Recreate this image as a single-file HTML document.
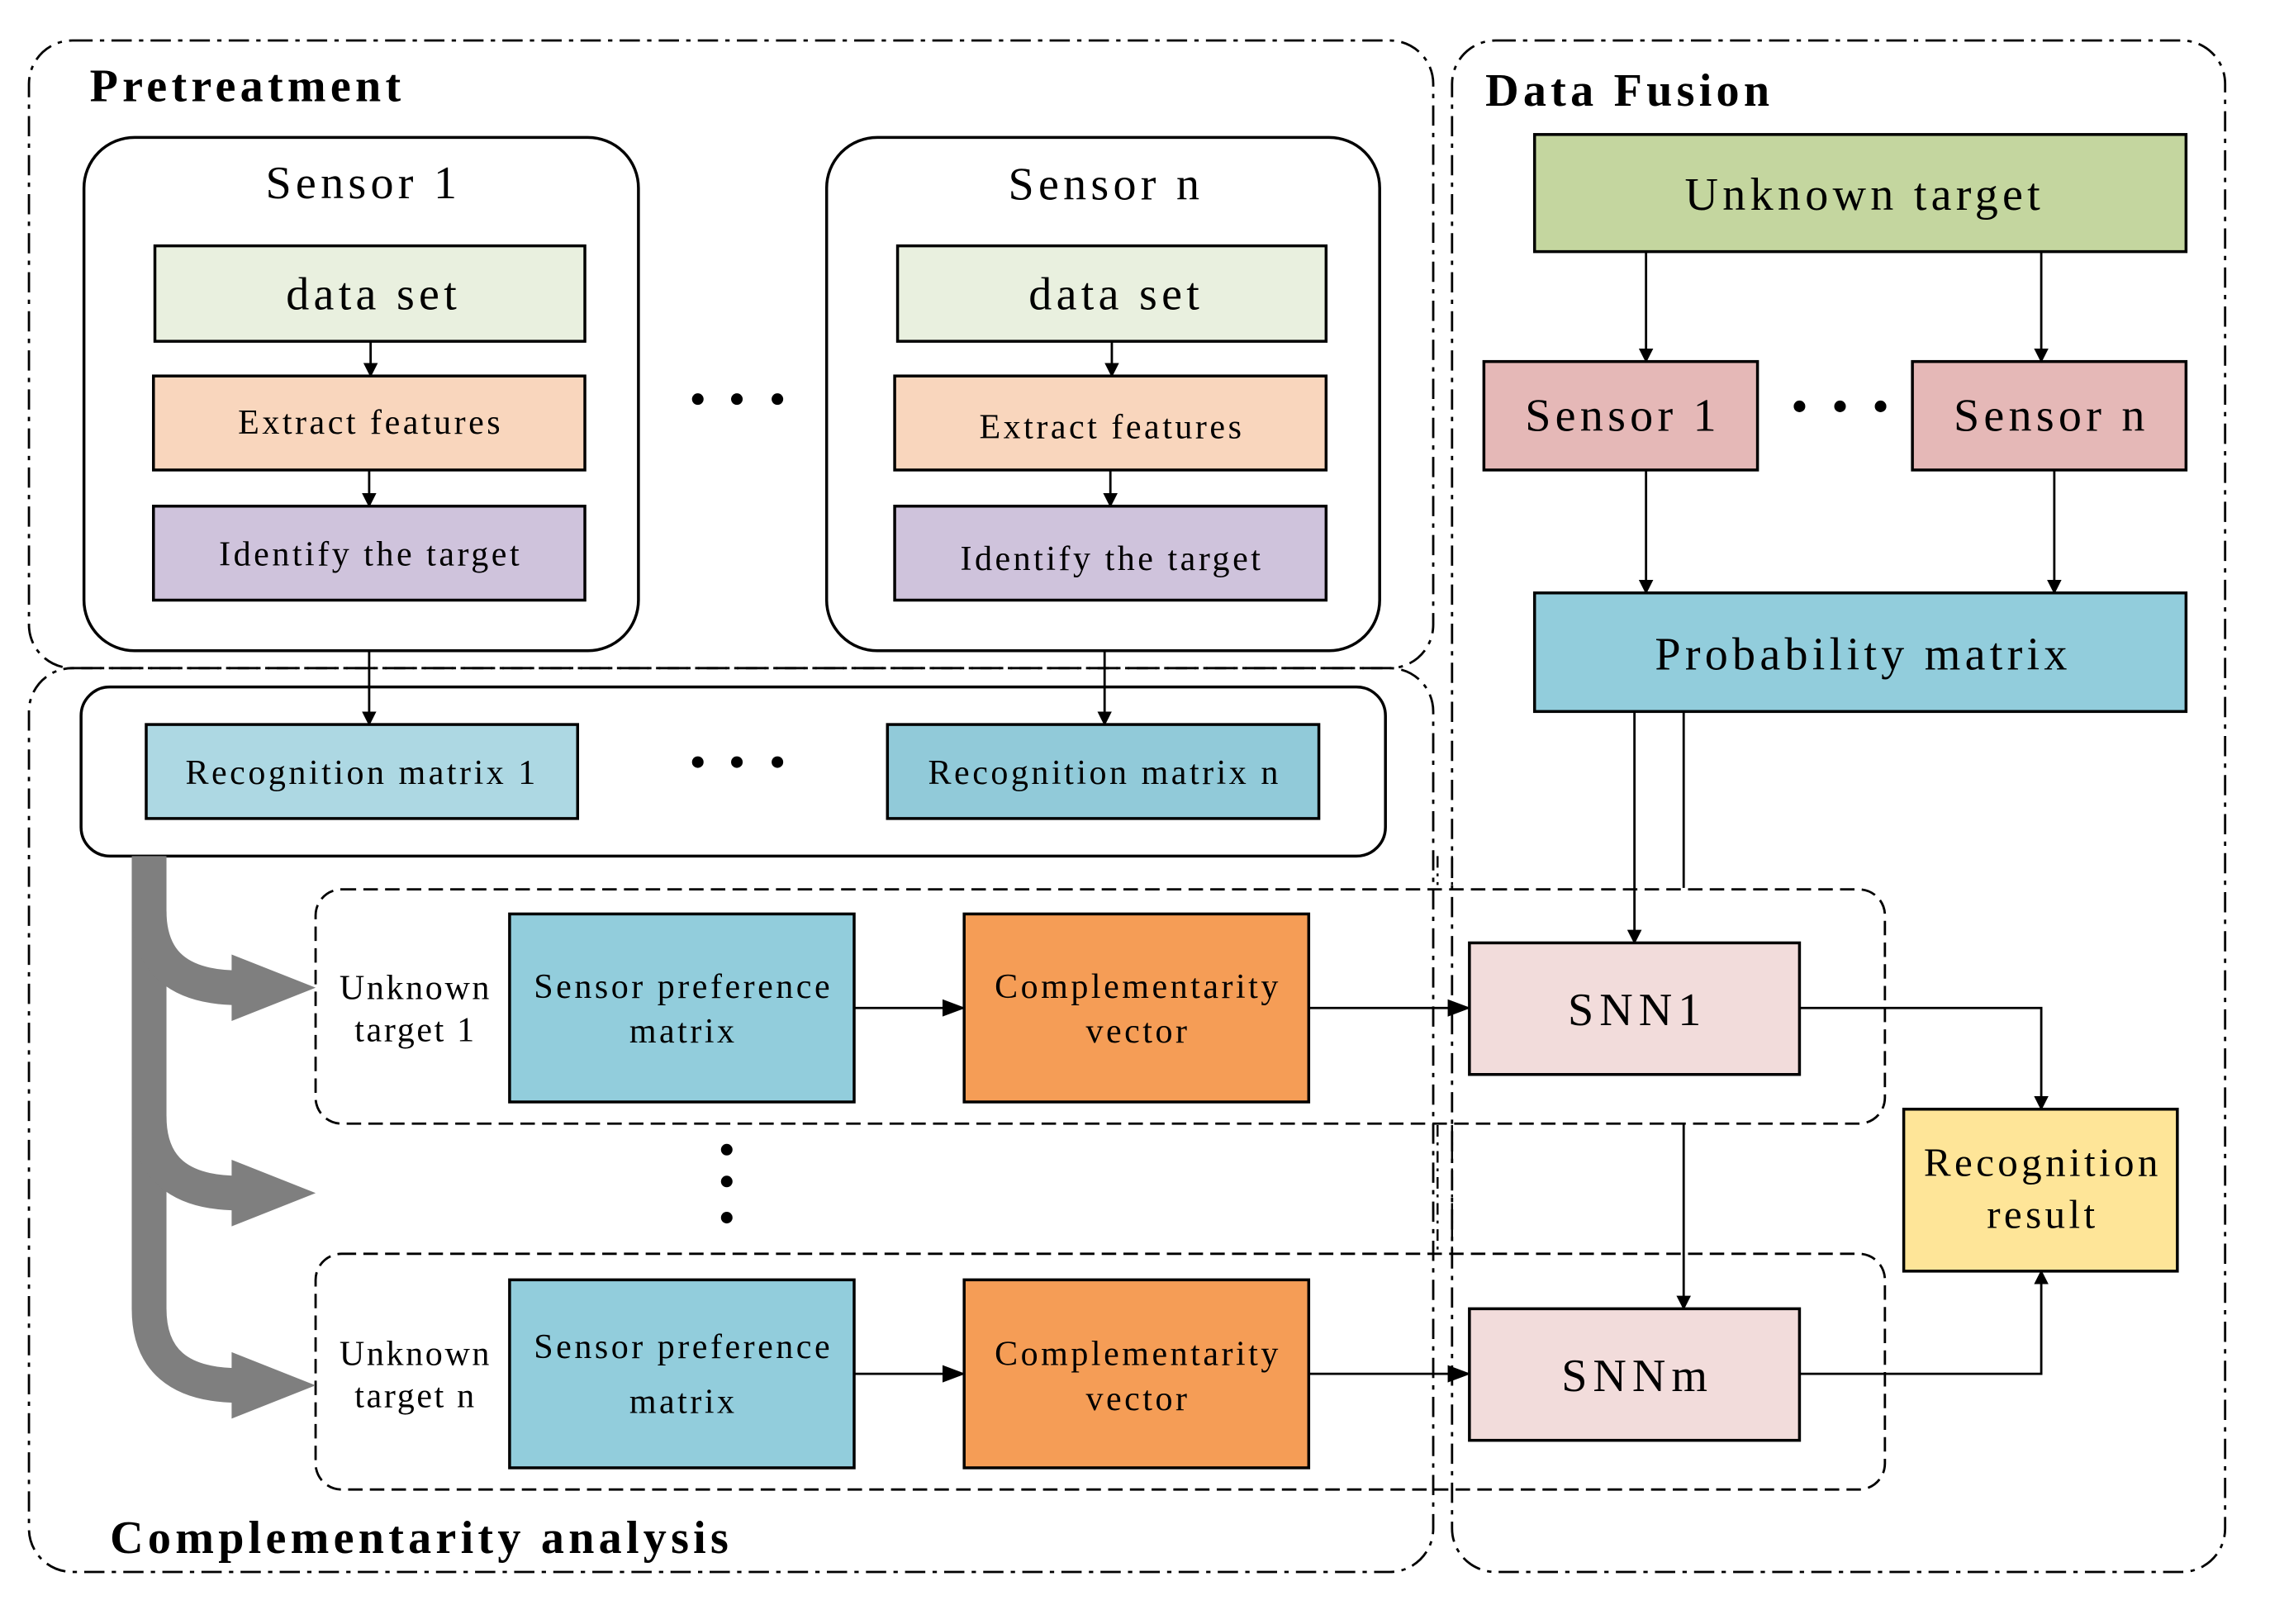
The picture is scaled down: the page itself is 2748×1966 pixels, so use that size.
<!DOCTYPE html>
<html><head><meta charset="utf-8"><style>
html,body{margin:0;padding:0;background:#fff;}
svg{display:block;}
text{font-family:"Liberation Serif",serif;fill:#000;}
</style></head><body>
<svg width="2748" height="1966" viewBox="0 0 1568 1123" preserveAspectRatio="none" xmlns="http://www.w3.org/2000/svg">
<defs>
<marker id="a" markerWidth="10" markerHeight="10" refX="9" refY="5" orient="auto" markerUnits="userSpaceOnUse"><path d="M0,0 L10,5 L0,10 z" fill="#000"/></marker>
<marker id="a2" markerWidth="16" markerHeight="14" refX="15" refY="7" orient="auto" markerUnits="userSpaceOnUse"><path d="M0,1 L16,7 L0,13 z" fill="#000"/></marker>
</defs>
<g fill="none" stroke="#000" stroke-width="1.6" stroke-dasharray="14,5,3,5">
<rect x="20" y="28" width="970" height="434" rx="30"/>
<rect x="1003" y="28" width="534" height="1059" rx="30"/>
<rect x="20" y="462" width="970" height="625" rx="30"/>
</g>
<g font-size="32" font-weight="bold" letter-spacing="3">
<text x="62" y="70">Pretreatment</text>
<text x="1026" y="73">Data Fusion</text>
<text x="76" y="1074">Complementarity analysis</text>
</g>

<g stroke="#000" stroke-width="2">
<rect x="58" y="95" width="383" height="355" rx="35" fill="#fff"/>
<rect x="571" y="95" width="382" height="355" rx="35" fill="#fff"/>
<rect x="107" y="170" width="297" height="66" fill="#e9f0df"/>
<rect x="106" y="260" width="298" height="65" fill="#f9d6bd"/>
<rect x="106" y="350" width="298" height="65" fill="#cfc3dc"/>
<rect x="620" y="170" width="296" height="66" fill="#e9f0df"/>
<rect x="618" y="260" width="298" height="65" fill="#f9d6bd"/>
<rect x="618" y="350" width="298" height="65" fill="#cfc3dc"/>
<rect x="56" y="475" width="901" height="117" rx="20" fill="#fff"/>
<rect x="101" y="501" width="298" height="65" fill="#add8e3"/>
<rect x="613" y="501" width="298" height="65" fill="#91cad9"/>
<rect x="1060" y="93" width="450" height="81" fill="#c4d69f"/>
<rect x="1025" y="250" width="189" height="75" fill="#e5b8b7"/>
<rect x="1321" y="250" width="189" height="75" fill="#e5b8b7"/>
<rect x="1060" y="410" width="450" height="82" fill="#92cddc"/>
</g>
<g font-size="32" text-anchor="middle" letter-spacing="3">
<text x="251" y="137">Sensor 1</text>
<text x="764" y="138">Sensor n</text>
<text x="258" y="214">data set</text>
<text x="771" y="214">data set</text>
</g>
<g font-size="24" text-anchor="middle" letter-spacing="2">
<text x="256" y="300">Extract features</text>
<text x="256" y="391">Identify the target</text>
<text x="768" y="303">Extract features</text>
<text x="768" y="394">Identify the target</text>
<text x="250" y="542">Recognition matrix 1</text>
<text x="763" y="542">Recognition matrix n</text>
</g>
<g font-size="32" text-anchor="middle" letter-spacing="3">
<text x="1288" y="145">Unknown target</text>
<text x="1121" y="298">Sensor 1</text>
<text x="1417" y="298">Sensor n</text>
<text x="1287" y="463">Probability matrix</text>
</g>
<g fill="#000">
<circle cx="482" cy="276" r="4"/><circle cx="509" cy="276" r="4"/><circle cx="537" cy="276" r="4"/>
<circle cx="482" cy="527" r="4"/><circle cx="509" cy="527" r="4"/><circle cx="537" cy="527" r="4"/>
<circle cx="1243" cy="281" r="4"/><circle cx="1271" cy="281" r="4"/><circle cx="1299" cy="281" r="4"/>
<circle cx="502" cy="795" r="4"/><circle cx="502" cy="817" r="4"/><circle cx="502" cy="842" r="4"/>
</g>
<g stroke="#000" stroke-width="1.6" fill="none" marker-end="url(#a)">
<line x1="256" y1="236" x2="256" y2="260"/>
<line x1="255" y1="325" x2="255" y2="350"/>
<line x1="768" y1="236" x2="768" y2="260"/>
<line x1="767" y1="325" x2="767" y2="350"/>
<line x1="255" y1="450" x2="255" y2="501"/>
<line x1="763" y1="450" x2="763" y2="501"/>
<line x1="1137" y1="174" x2="1137" y2="250"/>
<line x1="1410" y1="174" x2="1410" y2="250"/>
<line x1="1137" y1="325" x2="1137" y2="410"/>
<line x1="1419" y1="325" x2="1419" y2="410"/>
</g>
<g fill="none" stroke="#000" stroke-width="1.6" stroke-dasharray="10,5">
<rect x="218" y="615" width="1084" height="162" rx="18"/>
<rect x="218" y="867" width="1084" height="163" rx="18"/>
</g>
<g stroke="#000" stroke-width="1.4" stroke-dasharray="8,4,2,4">
<line x1="993" y1="592" x2="993" y2="612"/><line x1="1003" y1="592" x2="1003" y2="612"/>
<line x1="993" y1="778" x2="993" y2="865"/><line x1="1003" y1="778" x2="1003" y2="865"/>
</g>
<g stroke="#000" stroke-width="2">
<rect x="352" y="632" width="238" height="130" fill="#92cddc"/>
<rect x="666" y="632" width="238" height="130" fill="#f59d56"/>
<rect x="1015" y="652" width="228" height="91" fill="#f2dcdb"/>
<rect x="352" y="885" width="238" height="130" fill="#92cddc"/>
<rect x="666" y="885" width="238" height="130" fill="#f59d56"/>
<rect x="1015" y="905" width="228" height="91" fill="#f2dcdb"/>
<rect x="1315" y="767" width="189" height="112" fill="#fee598"/>
</g>
<g font-size="24" text-anchor="middle" letter-spacing="1.5">
<text x="287" y="691">Unknown</text><text x="287" y="720">target 1</text>
<text x="287" y="944">Unknown</text><text x="287" y="973">target n</text>
</g>
<g font-size="24" text-anchor="middle" letter-spacing="2">
<text x="472" y="690">Sensor preference</text><text x="472" y="721">matrix</text>
<text x="786" y="690">Complementarity</text><text x="786" y="721">vector</text>
<text x="472" y="939">Sensor preference</text><text x="472" y="977">matrix</text>
<text x="786" y="944">Complementarity</text><text x="786" y="975">vector</text>
</g>
<g font-size="32" text-anchor="middle" letter-spacing="4">
<text x="1131" y="709">SNN1</text>
<text x="1131" y="962">SNNm</text>
</g>
<g font-size="28" text-anchor="middle" letter-spacing="2.5">
<text x="1411" y="813">Recognition</text>
<text x="1411" y="849">result</text>
</g>
<g stroke="#000" stroke-width="1.6" fill="none">
<line x1="590" y1="697" x2="666" y2="697" marker-end="url(#a2)"/>
<line x1="904" y1="697" x2="1015" y2="697" marker-end="url(#a2)"/>
<line x1="590" y1="950" x2="666" y2="950" marker-end="url(#a2)"/>
<line x1="904" y1="950" x2="1015" y2="950" marker-end="url(#a2)"/>
<line x1="1129" y1="492" x2="1129" y2="652" marker-end="url(#a)"/>
<line x1="1163" y1="492" x2="1163" y2="614"/>
<line x1="1163" y1="777" x2="1163" y2="905" marker-end="url(#a)"/>
<polyline points="1243,697 1410,697 1410,767" marker-end="url(#a)"/>
<polyline points="1243,950 1410,950 1410,879" marker-end="url(#a)"/>
</g>
<g fill="none" stroke="#7f7f7f" stroke-width="24">
<path d="M103,592 L103,905 Q103,958 165,958"/>
<path d="M103,630 Q103,683 165,683"/>
<path d="M103,772 Q103,825 165,825"/>
</g>
<g fill="#7f7f7f">
<polygon points="160,660 218,683 160,706"/>
<polygon points="160,802 218,825 160,848"/>
<polygon points="160,935 218,958 160,981"/>
</g>
</svg>
</body></html>
